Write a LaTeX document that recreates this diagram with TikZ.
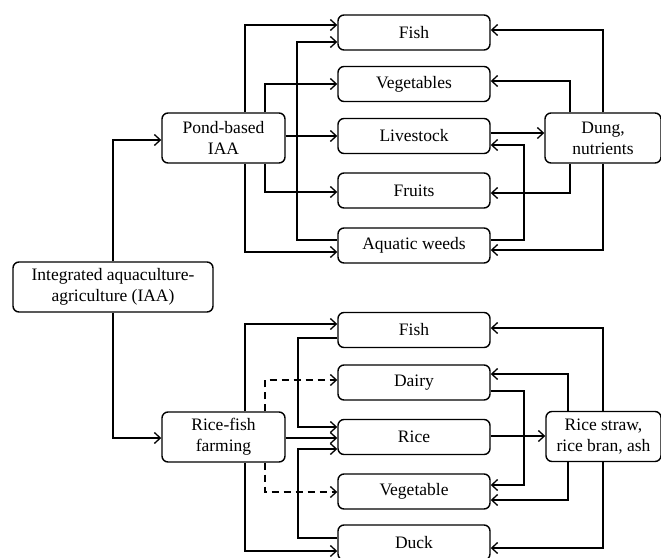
\documentclass[tikz,border=0pt]{standalone}
\usepackage{fontspec}
\setmainfont{Liberation Serif}
\usetikzlibrary{arrows.meta}
\begin{document}
\begin{tikzpicture}[x=1pt,y=-1pt,
  box/.style={draw, line width=1.4pt, rounded corners=6pt, inner sep=0pt, align=center,
    font=\fontsize{17.5}{21}\selectfont},
  item/.style={box, minimum width=152pt, minimum height=35pt},
  hub/.style={box, minimum height=50pt},
  conn/.style={line width=1.3pt, -{Straight Barb[length=6pt,width=11pt,line width=1.3pt]}},
  dconn/.style={conn, dash pattern=on 7pt off 5pt}
]
\useasboundingbox (0,0) rectangle (661,557);
% hubs
\node[hub, minimum width=200pt] (int) at (113,287) {Integrated aquaculture-\\agriculture (IAA)};
\node[hub, minimum width=123pt] (pond) at (223.5,138) {Pond-based\\IAA};
\node[hub, minimum width=123pt] (rf) at (223.5,437) {Rice-fish\\farming};
\node[hub, minimum width=116pt] (dung) at (603,138) {Dung,\\nutrients};
\node[hub, minimum width=115pt] (straw) at (603.5,436.5) {Rice straw,\\rice bran, ash};
% top items
\node[item] (fish1) at (414,32.5) {Fish};
\node[item] (veg1) at (414,84) {Vegetables};
\node[item] (live) at (414,136) {Livestock};
\node[item] (fruit) at (414,190.5) {Fruits};
\node[item] (aqua) at (414,245.5) {Aquatic weeds};
% bottom items
\node[item] (fish2) at (414,330) {Fish};
\node[item] (dairy) at (414,382.5) {Dairy};
\node[item] (rice) at (414,437) {Rice};
\node[item] (vege2) at (414,491.5) {Vegetable};
\node[item] (duck) at (414,542.5) {Duck};
% IAA
\draw[conn] (int.north) |- (pond.west |- 0,140);
\draw[conn] (int.south) |- (rf.west |- 0,438);
% pond-based left side
\draw[conn] (pond.north -| 245,0) |- (fish1.west |- 0,25);
\draw[conn] (pond.north -| 265,0) |- (veg1.west);
\draw[conn] (pond.east |- 0,136) -- (live.west);
\draw[conn] (pond.south -| 265,0) |- (fruit.west |- 0,192);
\draw[conn] (pond.south -| 245,0) |- (aqua.west |- 0,252);
\draw[conn] (aqua.west |- 0,240) -| (297,42) -- (fish1.west |- 0,42);
% pond-based right side
\draw[conn] (dung.north -| 603,0) |- (fish1.east |- 0,30);
\draw[conn] (dung.north -| 570,0) |- (veg1.east |- 0,81);
\draw[conn] (live.east |- 0,133) -- (dung.west |- 0,133);
\draw[conn] (aqua.east |- 0,240) -| (524,145) -- (live.east |- 0,145);
\draw[conn] (dung.south -| 570,0) |- (fruit.east |- 0,193);
\draw[conn] (dung.south -| 603,0) |- (aqua.east |- 0,250);
% rice-fish left side
\draw[conn] (rf.north -| 245,0) |- (fish2.west |- 0,324);
\draw[dconn] (rf.north -| 265,0) |- (dairy.west |- 0,380);
\draw[conn] (rf.east |- 0,438) -- (rice.west |- 0,438);
\draw[conn] (fish2.west |- 0,338) -| (298,427) -- (rice.west |- 0,427);
\draw[conn] (duck.west |- 0,538) -| (298,449) -- (rice.west |- 0,449);
\draw[dconn] (rf.south -| 265,0) |- (vege2.west |- 0,492);
\draw[conn] (rf.south -| 245,0) |- (duck.west |- 0,551);
% rice-fish right side
\draw[conn] (straw.north -| 603,0) |- (fish2.east |- 0,328);
\draw[conn] (straw.north -| 568,0) |- (dairy.east |- 0,374);
\draw[conn] (dairy.east |- 0,391) -| (524,485) -- (vege2.east |- 0,485);
\draw[conn] (rice.east |- 0,436) -- (straw.west |- 0,436);
\draw[conn] (straw.south -| 568,0) |- (vege2.east |- 0,500);
\draw[conn] (straw.south -| 603,0) |- (duck.east |- 0,548);
\end{tikzpicture}
\end{document}
